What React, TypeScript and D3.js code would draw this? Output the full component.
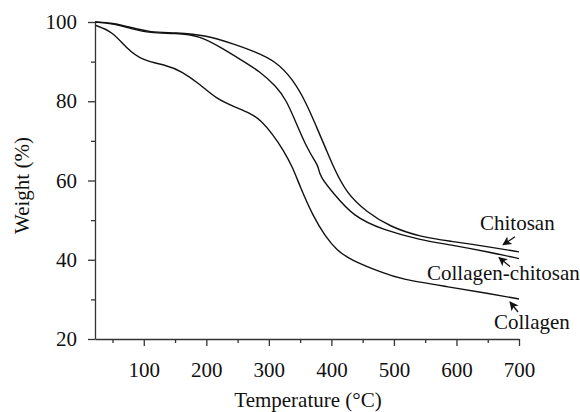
import React, { useEffect, useRef } from 'react';
import * as d3 from 'd3';

// TGA curves: temperature (°C) and weight (%)
const chitosanTemp = [22, 50, 80, 110, 150, 200, 246, 278, 312, 339, 360, 376, 392, 403, 424, 456, 494, 542, 590, 650, 700];
const chitosanWeight = [100, 99.8, 98.6, 97.4, 97.3, 96.7, 94.3, 92.5, 90, 85.4, 79.5, 73.6, 67.7, 63.5, 56.8, 52.1, 48.3, 45.8, 44.7, 43.3, 42];

const blendTemp = [22, 50, 80, 110, 150, 190, 227, 254, 286, 312, 328, 344, 360, 376, 379, 381.6, 403, 435, 483, 542, 590, 650, 700];
const blendWeight = [100, 99.6, 98.3, 97.2, 97.2, 96.6, 93.2, 90.6, 87.5, 83.7, 80.3, 74.4, 68.5, 64.3, 63.5, 61, 56.8, 50.9, 47.5, 45, 43.8, 42, 40.3];

const collagenTemp = [22, 50, 72, 98, 137, 160, 190, 216, 248, 270, 286, 307, 323, 338, 350, 371, 390, 408, 430, 482, 510, 590, 650, 700];
const collagenWeight = [99.2, 97.6, 93.4, 90.2, 89.1, 87.6, 84.3, 80.6, 78.4, 77, 75.4, 71.5, 67.7, 63.4, 58.4, 50.9, 46, 42.5, 40, 36.7, 35.1, 33.1, 31.5, 30.1];

const seriesNames = ['Chitosan', 'Collagen-chitosan', 'Collagen'];

const xMajorTicks = [100, 200, 300, 400, 500, 600, 700];
const xMinorTicks = [50, 150, 250, 350, 450, 550, 650];
const yMajorTicks = [20, 40, 60, 80, 100];
const yMinorTicks = [30, 50, 70, 90];

const FONT = "'Liberation Serif', 'Times New Roman', serif";

export default function App() {
    const width = 580;
    const height = 412;
    const margin = { left: 95, right: 61, top: 22, bottom: 73 };

    const xAxisRef = useRef<SVGGElement>(null);
    const xMinorRef = useRef<SVGGElement>(null);
    const yAxisRef = useRef<SVGGElement>(null);
    const yMinorRef = useRef<SVGGElement>(null);

    const xScale = d3.scaleLinear().domain([22, 700]).range([margin.left, width - margin.right]);
    const yScale = d3.scaleLinear().domain([20, 100]).range([height - margin.bottom, margin.top]);

    const line = d3.line<[number, number]>()
        .x((d) => xScale(d[0]))
        .y((d) => yScale(d[1]))
        .curve(d3.curveBasis);

    const series = [
        chitosanTemp.map((t, i) => [t, chitosanWeight[i]] as [number, number]),
        blendTemp.map((t, i) => [t, blendWeight[i]] as [number, number]),
        collagenTemp.map((t, i) => [t, collagenWeight[i]] as [number, number]),
    ];

    useEffect(() => {
        const styleAxis = (sel: any) => {
            sel.attr('font-family', FONT).attr('font-size', 21).attr('color', '#333');
            sel.selectAll('path, line').attr('stroke-width', 1.3);
            sel.selectAll('text').attr('fill', '#111');
        };

        d3.select(xAxisRef.current)
            .call(d3.axisBottom(xScale).tickValues(xMajorTicks).tickSize(7).tickSizeOuter(0).tickPadding(16).tickFormat(d3.format('d')) as any)
            .call(styleAxis);
        d3.select(xMinorRef.current)
            .call(d3.axisBottom(xScale).tickValues(xMinorTicks).tickSize(4).tickFormat(() => '') as any)
            .call(styleAxis)
            .select('.domain').remove();

        d3.select(yAxisRef.current)
            .call(d3.axisLeft(yScale).tickValues(yMajorTicks).tickSize(7).tickSizeOuter(0).tickPadding(11).tickFormat(d3.format('d')) as any)
            .call(styleAxis);
        d3.select(yMinorRef.current)
            .call(d3.axisLeft(yScale).tickValues(yMinorTicks).tickSize(4).tickFormat(() => '') as any)
            .call(styleAxis)
            .select('.domain').remove();
    });

    // label / arrow placement relative to the end of each curve
    const endX = xScale(700);
    const labels = [
        { text: seriesNames[0], x: endX - 39, y: yScale(chitosanWeight[chitosanWeight.length - 1]) - 22, tail: [-4, -15], tip: [-16, -7] },
        { text: seriesNames[1], x: endX - 92, y: yScale(blendWeight[blendWeight.length - 1]) + 21, tail: [-9, 8], tip: [-20, -1] },
        { text: seriesNames[2], x: endX - 25, y: yScale(collagenWeight[collagenWeight.length - 1]) + 30, tail: [-1, 13], tip: [-9, 3] },
    ];
    const ends = [chitosanWeight, blendWeight, collagenWeight].map((w) => yScale(w[w.length - 1]));

    return (
        <svg width={width} height={height} style={{ position: 'absolute', left: 0, top: 0, background: '#fff' }}>
            <defs>
                <marker id="head" viewBox="0 0 10 10" refX="9" refY="5" markerWidth="7" markerHeight="7" orient="auto">
                    <path d="M0,0 L10,5 L0,10 L2.5,5 Z" fill="#111" />
                </marker>
            </defs>

            {series.map((d, i) => (
                <path key={i} d={line(d) || ''} fill="none" stroke="#111" strokeWidth={1.4} />
            ))}

            <g ref={xMinorRef} transform={`translate(0, ${height - margin.bottom})`} />
            <g ref={xAxisRef} transform={`translate(0, ${height - margin.bottom})`} />
            <g ref={yMinorRef} transform={`translate(${margin.left}, 0)`} />
            <g ref={yAxisRef} transform={`translate(${margin.left}, 0)`} />

            {labels.map((l, i) => (
                <g key={i}>
                    <text x={l.x} y={l.y} textAnchor="start" style={{ fontFamily: FONT }} fontSize={21} fill="#111">{l.text}</text>
                    <line x1={endX + l.tail[0]} y1={ends[i] + l.tail[1]} x2={endX + l.tip[0]} y2={ends[i] + l.tip[1]}
                        stroke="#111" strokeWidth={1.3} markerEnd="url(#head)" />
                </g>
            ))}

            <text x={(margin.left + width - margin.right) / 2 + 1} y={407} textAnchor="middle" style={{ fontFamily: FONT }} fontSize={21} fill="#111">
                Temperature (°C)
            </text>
            <text transform={`translate(29, ${(margin.top + height - margin.bottom) / 2 + 5}) rotate(-90)`} textAnchor="middle"
                style={{ fontFamily: FONT }} fontSize={21} fill="#111">
                Weight (%)
            </text>
        </svg>
    );
}
